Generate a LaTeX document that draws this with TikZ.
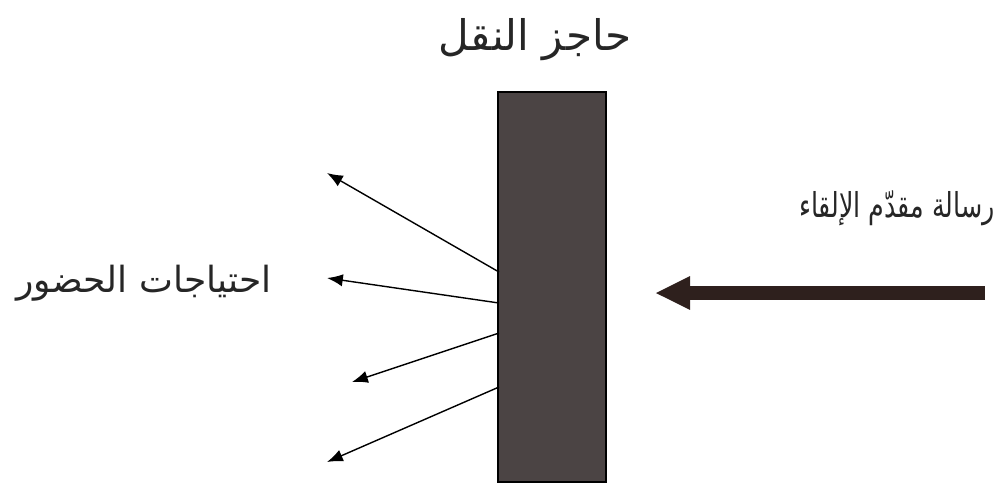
\documentclass[tikz,border=0pt]{standalone}
\usepackage{fontspec}
\usepackage{graphicx}
\usepackage{xcolor}
\usepackage{tikz}
\usetikzlibrary{arrows.meta, positioning, calc}
\TeXXeTstate=1
\newfontfamily\arabicfont[Script=Arabic]{DejaVu Sans}
\definecolor{barfill}{HTML}{4B4444}
\definecolor{msgcol}{HTML}{2E201D}

\begin{document}
\begin{tikzpicture}[x=0.02cm, y=-0.02cm,
        lbl/.style={font=\arabicfont\fontsize{20.5}{24}\selectfont, text=black!85},
        ray/.style={draw, line width=0.8pt, -{Latex[length=9pt,width=7pt]}},
        msg/.style={draw=msgcol, line width=8.5pt, -{Triangle[length=0.7cm,width=0.62cm]}}
        ]
        \useasboundingbox (0,0) rectangle (1003,485);

        % the barrier
        \node[draw, line width=1.1pt, fill=barfill, minimum width=2.16cm,
                minimum height=7.8cm, inner sep=0pt] (bar) at (552,287) {};
        \node[lbl, font=\arabicfont\fontsize{24}{28}\selectfont] (title) at (535,40) {\beginR حاجز النقل\endR};

        % incoming message
        \node[lbl, font=\arabicfont\fontsize{19.5}{23}\selectfont] (msglbl) at (897,208)
                {\scalebox{0.74}[1]{\beginR رسالة مقدّم الإلقاء\endR}};
        \coordinate (m0) at (985,293);
        \coordinate (m1) at (655,293);
        \draw[msg] (m0) -- (m1);

        % outgoing rays
        \node[lbl] (need) at (144,283) {\beginR احتياجات الحضور\endR};
        \coordinate (s1) at (499,272); \coordinate (t1) at (327,173);
        \coordinate (s2) at (499,303); \coordinate (t2) at (327,278);
        \coordinate (s3) at (499,333); \coordinate (t3) at (352,382);
        \coordinate (s4) at (499,387); \coordinate (t4) at (327,462);
        \foreach \i in {1,2,3,4} {
                \draw[ray] (s\i) -- (t\i);
            }
    \end{tikzpicture}
\end{document}
